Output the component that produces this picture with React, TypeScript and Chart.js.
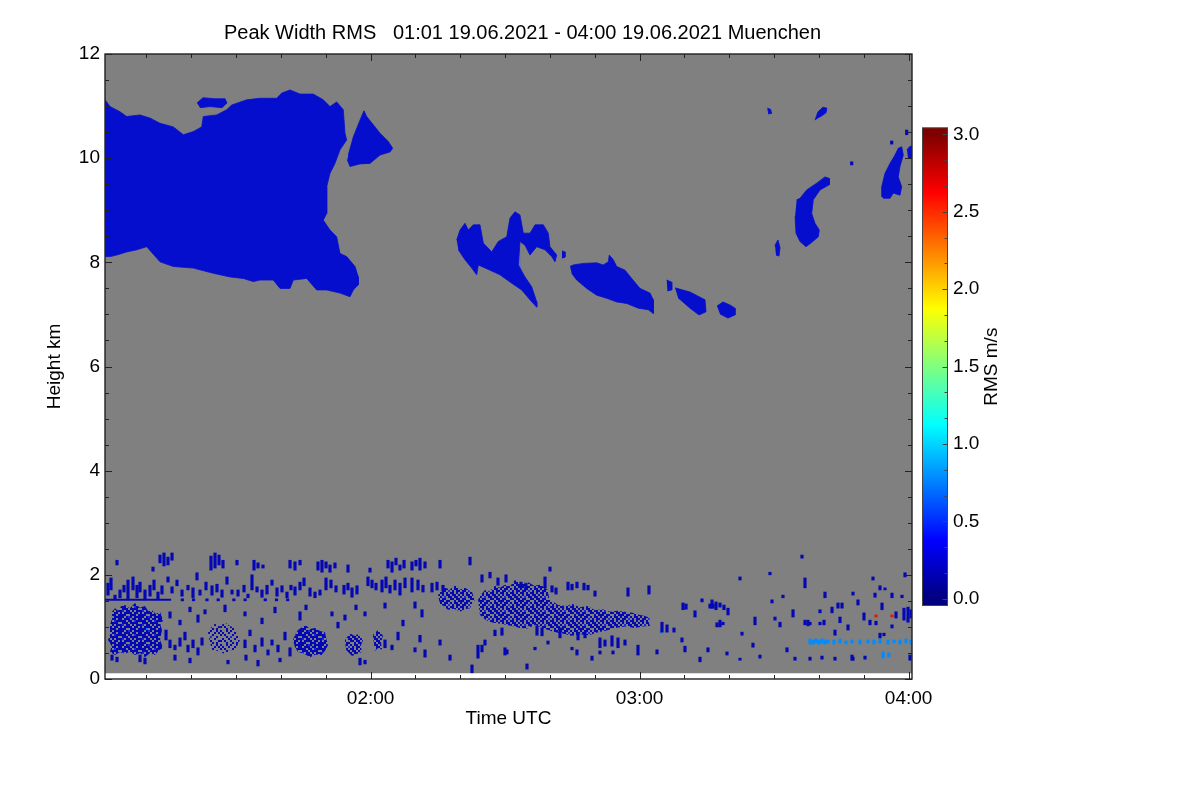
import { useEffect, useRef } from "react";
import { Chart, registerables } from "chart.js";

Chart.register(...registerables);

type Pt = [number, number];
type Streak = [number, number, number];

// ---------- axes / labels ----------
const timeRange: Pt = [60.75, 240.76]; // minutes after 00:00 UTC
const heightRange: Pt = [0, 12]; // km
const firstGateKm = 0.11;
const timeTicks = [120, 180, 240];
const timeMinorStep = 10;
const heightTicks = [0, 2, 4, 6, 8, 10, 12];
const heightMinorStep = 0.5;
const rmsTicks = [0, 0.5, 1, 1.5, 2, 2.5, 3];
const rmsRange: Pt = [0, 3];
const rmsMinorStep = 0.5 / 3;
const titleText = "Peak Width RMS   01:01 19.06.2021 - 04:00 19.06.2021 Muenchen";
const xTitle = "Time UTC";
const yTitle = "Height km";
const cbTitle = "RMS m/s";

// ---------- cloud echoes (time min, height km) ----------
const cirrusMain: Pt[] = [
  [60.5, 11.15], [61.87, 10.99], [64.1, 10.89], [65.59, 10.8], [68.56, 10.83], [70.79, 10.77], [73.02, 10.67],
  [75.99, 10.6], [78.22, 10.45], [80.45, 10.51], [82.32, 10.6], [82.68, 10.8], [85.67, 10.83], [87.9, 10.93],
  [89.01, 11.02], [92.36, 11.12], [95.32, 11.15], [99.05, 11.15], [100.17, 11.25], [102.02, 11.31], [104.25, 11.23],
  [107.21, 11.23], [109.44, 11.12], [110.94, 10.99], [112.43, 11.08], [113.9, 10.93], [114.28, 10.48], [114.66, 10.35],
  [113.17, 10.16], [112.05, 9.9], [110.94, 9.71], [110.2, 9.45], [110.2, 8.94], [109.44, 8.81], [110.94, 8.62],
  [112.43, 8.49], [113.17, 8.17], [114.66, 8.11], [116.52, 7.92], [117.25, 7.72], [117.25, 7.57], [116.14, 7.47],
  [115.4, 7.34], [113.17, 7.41], [110.2, 7.47], [107.97, 7.47], [105.74, 7.69], [102.75, 7.66], [102.02, 7.5],
  [99.79, 7.5], [98.29, 7.66], [95.32, 7.66], [93.83, 7.63], [91.6, 7.69], [88.63, 7.72], [84.91, 7.79],
  [80.45, 7.89], [75.99, 7.92], [73.02, 8.01], [70.05, 8.3], [67.82, 8.24], [65.59, 8.2], [63.36, 8.14],
  [61.87, 8.11], [60.5, 8.11],
];
const cirrusSide: Pt[] = [
  [115.02, 10.06], [116.14, 10.41], [117.63, 10.73], [118.52, 10.91], [119.12, 10.8], [120.6, 10.64], [122.09, 10.48],
  [123.94, 10.32], [124.92, 10.19], [124.32, 10.12], [122.09, 10.06], [119.86, 9.9], [117.63, 9.89], [115.4, 9.84],
  [114.8, 9.97],
];
const cirrusTop: Pt[] = [
  [81.27, 11.06], [82.61, 11.16], [85.29, 11.14], [87.52, 11.14], [87.96, 11.06], [86.85, 10.97], [84.17, 10.99], [81.94, 10.97],
];
const cirrusWideGlow: Pt[] = [
  [100.0, 11.1], [104.0, 11.15], [108.0, 11.1], [110.5, 10.9], [111.5, 10.3], [110.0, 9.6], [109.0, 8.8],
  [106.0, 8.2], [103.0, 8.0], [100.5, 8.3], [99.5, 9.5],
];
const cirrusGlow: Pt[] = [
  [99.5, 10.9], [101.5, 11.0], [103.5, 10.6], [104.0, 9.5], [103.0, 8.7], [100.5, 8.8], [99.8, 9.8],
];
const cirrusSideGlow: Pt[] = [
  [116.5, 10.3], [118.5, 10.8], [121.5, 10.5], [123.5, 10.2], [120.0, 10.0], [116.5, 9.95],
];
const waveLeft: Pt[] = [
  [139.2, 8.43], [139.94, 8.62], [141.05, 8.75], [141.79, 8.62], [142.9, 8.72], [144.4, 8.72], [145.13, 8.37],
  [147.01, 8.2], [148.48, 8.4], [150.36, 8.49], [151.09, 8.85], [152.2, 8.97], [153.32, 8.91], [154.06, 8.56],
  [155.55, 8.56], [156.67, 8.72], [158.52, 8.72], [159.63, 8.56], [160.01, 8.3], [161.51, 8.14], [161.13, 8.01],
  [160.39, 8.11], [158.9, 8.24], [157.05, 8.3], [155.55, 8.14], [154.43, 8.33], [153.32, 8.4], [152.95, 7.95],
  [154.43, 7.72], [155.93, 7.53], [157.05, 7.24], [157.05, 7.14], [155.55, 7.28], [153.7, 7.47], [151.47, 7.6],
  [148.86, 7.76], [146.63, 7.85], [144.02, 7.95], [143.66, 7.76], [142.55, 7.89], [141.05, 8.05], [139.56, 8.24],
];
const waveGlow: Pt[] = [
  [151.2, 8.85], [152.4, 8.95], [153.2, 8.6], [153.6, 7.75], [152.5, 7.6], [151.6, 8.2],
];
const waveBitA: Pt[] = [[162.69, 8.22], [163.36, 8.2], [163.36, 8.1], [162.69, 8.08]];
const waveMid: Pt[] = [
  [164.48, 7.92], [165.21, 7.95], [167.44, 7.98], [170.43, 7.99], [171.9, 7.95], [173.02, 8.01], [173.24, 8.14],
  [174.13, 8.05], [174.89, 7.92], [176.74, 7.85], [178.24, 7.69], [180.09, 7.5], [182.32, 7.41], [183.05, 7.28],
  [183.05, 7.02], [181.94, 7.09], [179.71, 7.12], [177.12, 7.21], [174.89, 7.24], [172.66, 7.31], [170.43, 7.37],
  [168.2, 7.5], [165.97, 7.66], [164.85, 7.79],
];
const waveMidGlow: Pt[] = [
  [168.0, 7.8], [175.0, 7.65], [180.5, 7.4], [179.5, 7.25], [172.0, 7.45], [167.5, 7.6],
];
const waveBitB: Pt[] = [[186.04, 7.66], [187.16, 7.62], [187.16, 7.47], [186.2, 7.45]];
const waveBitC: Pt[] = [
  [187.9, 7.51], [191.25, 7.43], [194.59, 7.28], [194.81, 7.05], [193.25, 6.99], [191.25, 7.12], [188.57, 7.32],
];
const waveBitD: Pt[] = [
  [197.26, 7.16], [198.6, 7.24], [200.17, 7.18], [201.28, 7.12], [201.28, 6.99], [199.71, 6.93], [197.93, 7.01],
];
const eastA: Pt[] = [[208.48, 10.96], [209.2, 10.94], [209.47, 10.86], [208.7, 10.85]];
const eastB: Pt[] = [[219.12, 10.73], [219.79, 10.89], [220.9, 10.98], [221.79, 10.96], [221.57, 10.87], [220.24, 10.79]];
const eastC: Pt[] = [
  [215.04, 9.2], [215.78, 9.23], [217.27, 9.39], [219.5, 9.52], [221.35, 9.64], [222.31, 9.61], [222.31, 9.49],
  [220.24, 9.39], [218.74, 9.2], [218.39, 8.94], [219.12, 8.75], [220.08, 8.62], [219.86, 8.49], [218.22, 8.37],
  [217.1, 8.3], [215.78, 8.4], [214.89, 8.56], [214.67, 8.88],
];
const eastD: Pt[] = [[210.2, 8.33], [210.87, 8.43], [211.32, 8.28], [211.09, 8.12], [210.42, 8.14]];
const eastE: Pt[] = [
  [234.0, 9.26], [234.0, 9.45], [234.74, 9.71], [235.85, 9.9], [236.97, 10.06], [237.7, 10.19], [238.46, 10.22],
  [238.82, 10.06], [238.08, 9.84], [237.7, 9.64], [238.46, 9.45], [238.08, 9.29], [236.59, 9.33], [235.85, 9.23],
  [234.35, 9.23],
];
const eastF: Pt[] = [[239.64, 10.16], [240.31, 10.23], [241.2, 10.23], [241.2, 10.0], [239.87, 10.0]];

// ---------- boundary-layer clusters ----------
const blA: Pt[] = [
  [62.31, 1.29], [63.0, 1.36], [63.65, 1.31], [64.4, 1.4], [65.21, 1.42], [66.3, 1.36], [67.44, 1.46], [68.5, 1.37],
  [69.67, 1.4], [70.4, 1.3], [71.23, 1.32], [72.1, 1.25], [73.02, 1.29], [73.69, 1.13], [73.1, 1.04], [73.46, 0.94],
  [73.02, 0.75], [73.69, 0.6], [72.8, 0.55], [71.9, 0.46], [70.8, 0.5], [69.67, 0.42], [68.6, 0.5], [67.44, 0.46],
  [66.3, 0.53], [65.21, 0.48], [64.1, 0.52], [62.98, 0.46], [61.87, 0.52], [62.2, 0.64], [61.42, 0.75], [62.0, 0.88],
  [61.87, 1.04], [62.3, 1.16],
];
const blB: Pt[] = [
  [83.73, 0.9], [84.4, 0.99], [85.29, 1.06], [86.4, 1.01], [87.52, 1.09], [88.6, 1.02], [89.75, 0.98], [90.2, 0.86],
  [90.86, 0.75], [90.3, 0.65], [89.97, 0.56], [88.7, 0.55], [87.52, 0.48], [86.0, 0.54], [84.62, 0.56], [84.1, 0.72],
];
const blC: Pt[] = [
  [102.69, 0.75], [103.2, 0.86], [103.8, 0.94], [104.6, 0.99], [105.36, 1.04], [106.5, 0.96], [107.59, 0.98],
  [108.7, 0.92], [109.82, 0.9], [110.1, 0.78], [110.49, 0.65], [109.9, 0.55], [109.15, 0.46], [107.8, 0.47],
  [106.48, 0.42], [105.1, 0.49], [103.8, 0.52], [103.1, 0.62],
];
const blD: Pt[] = [[114.28, 0.75], [115.4, 0.88], [116.3, 0.83], [117.19, 0.86], [118.3, 0.75], [117.8, 0.64], [118.08, 0.52], [116.9, 0.48], [115.85, 0.44], [114.51, 0.56]];
const blE: Pt[] = [[120.53, 0.85], [121.65, 0.94], [122.76, 0.83], [122.3, 0.7], [122.54, 0.56], [121.7, 0.6], [120.98, 0.54], [120.7, 0.7]];
const blF: Pt[] = [
  [135.03, 1.61], [135.8, 1.7], [136.59, 1.75], [137.7, 1.72], [138.82, 1.81], [140.0, 1.72], [141.05, 1.75],
  [142.61, 1.67], [142.9, 1.6], [143.28, 1.52], [142.6, 1.44], [142.17, 1.36], [141.0, 1.34], [139.94, 1.29],
  [138.6, 1.35], [137.26, 1.33], [136.3, 1.4], [135.48, 1.44],
];
const blG: Pt[] = [
  [143.96, 1.52], [144.6, 1.62], [145.52, 1.71], [146.6, 1.69], [147.75, 1.79], [148.9, 1.75], [149.98, 1.81],
  [151.1, 1.78], [152.21, 1.9], [153.6, 1.82], [155.11, 1.86], [156.5, 1.79], [157.78, 1.81], [158.7, 1.76],
  [159.56, 1.71], [159.7, 1.6], [160.01, 1.52], [161.0, 1.47], [161.8, 1.42], [163.36, 1.4], [165.0, 1.44],
  [166.71, 1.38], [168.4, 1.4], [170.05, 1.32], [171.7, 1.34], [173.4, 1.29], [175.0, 1.31], [176.74, 1.29],
  [178.4, 1.27], [180.09, 1.23], [181.2, 1.21], [182.32, 1.17], [182.0, 1.1], [182.32, 1.02], [180.6, 1.01],
  [178.97, 0.98], [176.8, 1.01], [174.51, 0.98], [172.6, 0.93], [170.72, 0.9], [168.7, 0.84], [166.71, 0.86],
  [164.7, 0.83], [162.69, 0.88], [161.1, 0.9], [159.56, 0.94], [158.1, 0.99], [156.67, 1.04], [155.0, 0.97],
  [153.32, 0.98], [151.6, 1.02], [149.98, 1.04], [148.3, 1.07], [146.63, 1.09], [145.4, 1.15], [144.4, 1.23],
];
const gateLine: Pt[] = [[60.5, 1.52], [75.5, 1.52]];

// ---------- speckle streaks (time min, low km, high km) ----------
const streaksDark: Streak[] = [
  [61.42, 1.61, 1.84], [62.09, 1.71, 1.94], [62.98, 1.52, 1.61], [64.1, 1.56, 1.71], [64.99, 1.67, 1.8], [65.88, 1.52, 1.9],
  [67.0, 1.71, 1.96], [67.89, 1.56, 1.8], [68.56, 1.67, 1.86], [69.67, 1.52, 1.71], [70.79, 1.59, 1.8], [71.68, 1.71, 1.9],
  [72.57, 1.52, 1.67], [73.46, 1.63, 1.79], [62.31, 0.36, 0.46], [63.43, 0.33, 0.42], [68.56, 0.33, 0.46], [69.67, 0.29, 0.4],
  [73.02, 2.23, 2.38], [73.91, 2.17, 2.42], [74.8, 2.19, 2.34], [75.7, 2.28, 2.42], [63.43, 2.19, 2.28], [71.46, 2.07, 2.15],
  [84.39, 2.09, 2.36], [85.29, 2.13, 2.42], [86.18, 2.19, 2.38], [87.07, 2.13, 2.28], [90.19, 2.19, 2.28], [93.99, 2.09, 2.28],
  [94.88, 2.13, 2.23], [95.99, 2.13, 2.19], [102.02, 2.13, 2.28], [103.13, 2.09, 2.25], [104.25, 2.19, 2.28],
  [74.8, 1.86, 1.96], [75.7, 1.65, 1.77], [76.81, 1.79, 1.9], [77.93, 1.59, 1.71], [79.26, 1.71, 1.8], [80.38, 1.56, 1.75],
  [81.27, 1.9, 2.04], [81.94, 1.61, 1.71], [83.28, 1.71, 1.86], [84.62, 1.61, 1.79], [85.73, 1.67, 1.82], [86.85, 1.57, 1.71],
  [87.96, 1.82, 1.96], [89.08, 1.63, 1.71], [90.42, 1.59, 1.71], [91.76, 1.67, 1.8], [92.65, 1.56, 1.63], [93.54, 1.71, 2.0],
  [94.66, 1.67, 1.77], [95.77, 1.57, 1.71], [96.89, 1.63, 1.8], [98.0, 1.8, 1.9], [99.12, 1.59, 1.75], [100.23, 1.67, 1.79],
  [101.35, 1.56, 1.67], [102.24, 1.71, 1.8], [103.13, 1.61, 1.77], [104.25, 1.71, 1.86], [105.14, 1.79, 1.94],
  [78.0, 1.5, 1.54], [80.5, 1.5, 1.54], [83.5, 1.5, 1.54], [86.0, 1.5, 1.54], [89.5, 1.5, 1.54], [92.0, 1.5, 1.54],
  [96.5, 1.5, 1.54], [99.0, 1.5, 1.54], [101.5, 1.5, 1.54],
  [75.25, 1.17, 1.29], [77.48, 1.04, 1.13], [79.71, 1.29, 1.38], [81.49, 1.09, 1.23], [83.06, 1.25, 1.33], [87.52, 1.29, 1.42],
  [91.98, 1.21, 1.29], [95.77, 1.06, 1.17], [98.67, 1.27, 1.38], [104.25, 1.13, 1.29], [105.59, 1.33, 1.42],
  [74.36, 0.75, 0.94], [75.25, 0.6, 0.75], [76.36, 0.56, 0.65], [77.48, 0.63, 0.79], [78.59, 0.75, 0.9], [79.26, 0.52, 0.65],
  [80.38, 0.6, 0.75], [81.49, 0.46, 0.6], [82.39, 0.65, 0.79], [91.98, 0.6, 0.75], [93.09, 0.83, 0.94], [94.21, 0.52, 0.65],
  [95.77, 0.63, 0.79], [97.11, 0.46, 0.56], [98.0, 0.65, 0.75], [99.34, 0.52, 0.65], [100.9, 0.75, 0.9], [102.02, 0.44, 0.6],
  [92.2, 0.36, 0.46], [88.19, 0.29, 0.36], [94.88, 0.25, 0.36], [76.36, 0.36, 0.46], [79.71, 0.31, 0.4], [99.79, 0.33, 0.4],
  [108.26, 2.09, 2.25], [109.15, 2.05, 2.28], [110.05, 2.13, 2.25], [110.94, 2.05, 2.19], [112.05, 2.13, 2.23],
  [114.95, 2.05, 2.19], [119.86, 2.05, 2.13], [123.88, 2.13, 2.28], [124.77, 2.05, 2.25], [125.66, 2.19, 2.32],
  [126.55, 2.09, 2.19], [127.45, 2.13, 2.28], [129.23, 2.09, 2.25], [130.12, 2.17, 2.28], [131.01, 2.09, 2.32],
  [132.13, 2.13, 2.25], [135.48, 2.13, 2.28], [142.17, 2.19, 2.34],
  [106.48, 1.59, 1.75], [107.59, 1.56, 1.67], [108.71, 1.61, 1.71], [110.05, 1.71, 1.94], [111.16, 1.75, 1.9],
  [112.28, 1.67, 1.79], [114.06, 1.63, 1.8], [114.95, 1.71, 1.84], [115.85, 1.57, 1.75], [116.96, 1.63, 1.79],
  [119.41, 1.79, 1.96], [120.31, 1.75, 1.9], [121.2, 1.71, 1.84], [122.54, 1.67, 1.9], [123.43, 1.75, 1.96],
  [124.32, 1.65, 1.8], [125.44, 1.71, 1.9], [126.55, 1.61, 1.84], [127.67, 1.75, 1.94], [129.23, 1.67, 1.94],
  [130.57, 1.71, 1.9], [131.68, 1.67, 1.8], [133.69, 1.67, 1.84], [134.81, 1.71, 1.86], [136.14, 1.69, 1.8],
  [111.38, 1.21, 1.29], [112.72, 0.98, 1.09], [114.28, 1.13, 1.23], [123.21, 1.36, 1.46], [127.22, 1.02, 1.13],
  [129.9, 1.36, 1.48], [131.46, 1.19, 1.33], [116.74, 1.33, 1.42], [118.75, 1.21, 1.29],
  [123.21, 0.6, 0.75], [124.77, 0.56, 0.65], [126.11, 0.75, 0.9], [131.01, 0.71, 0.84], [132.13, 0.42, 0.56],
  [129.9, 0.52, 0.6], [117.63, 0.27, 0.4], [118.75, 0.29, 0.36], [142.61, 0.12, 0.27], [143.95, 0.4, 0.65],
  [145.51, 0.65, 0.75], [149.97, 0.46, 0.6], [147.74, 0.83, 0.94], [149.3, 0.84, 0.98], [135.48, 0.65, 0.75],
  [137.71, 0.36, 0.46],
  [144.84, 1.86, 2.0], [146.63, 1.94, 2.05], [148.41, 1.8, 1.94], [150.2, 1.86, 2.0], [153.54, 1.75, 1.86],
  [154.65, 1.71, 1.84], [158.9, 1.75, 1.96], [160.46, 1.67, 1.79], [161.35, 1.63, 1.75], [164.03, 1.71, 1.86],
  [164.92, 1.71, 1.82], [166.03, 1.75, 1.86], [167.6, 1.71, 1.84], [168.49, 1.71, 1.8], [170.05, 1.59, 1.69],
  [177.41, 1.59, 1.75], [182.09, 1.63, 1.79], [160.01, 2.07, 2.15],
  [157.11, 0.84, 1.02], [158.23, 0.83, 0.98], [162.24, 0.79, 0.98], [166.26, 0.75, 0.88], [167.82, 0.79, 0.9],
  [171.16, 0.6, 0.79], [172.28, 0.63, 0.75], [173.84, 0.63, 0.83], [175.18, 0.6, 0.79], [176.74, 0.65, 0.75],
  [179.64, 0.46, 0.65], [166.03, 0.46, 0.56], [169.38, 0.36, 0.44], [154.88, 0.19, 0.29], [156.67, 0.56, 0.61],
  [159.57, 0.67, 0.73], [164.92, 0.56, 0.61], [171.16, 0.48, 0.54], [174.06, 0.48, 0.54], [183.88, 0.48, 0.56],
  [144.84, 0.52, 0.65], [150.42, 0.48, 0.56],
  [184.99, 0.9, 1.09], [186.11, 0.9, 1.04], [187.67, 0.9, 0.98], [189.68, 1.33, 1.46], [190.35, 1.34, 1.44],
  [192.36, 1.19, 1.31], [193.92, 1.48, 1.54], [195.7, 1.36, 1.44], [196.37, 1.36, 1.44], [197.26, 1.0, 1.08],
  [189.45, 0.71, 0.79], [193.47, 0.33, 0.42], [195.25, 0.52, 0.6], [190.12, 0.52, 0.63],
  [196.15, 1.36, 1.52], [197.04, 1.33, 1.48], [197.93, 1.38, 1.46], [198.82, 1.33, 1.42], [197.93, 1.0, 1.13],
  [198.6, 1.04, 1.09], [199.72, 1.23, 1.36], [202.39, 1.9, 1.96], [202.84, 0.84, 0.9], [205.74, 1.04, 1.19],
  [205.29, 0.61, 0.69], [209.08, 2.0, 2.05], [209.53, 1.46, 1.52], [210.2, 1.13, 1.19], [211.32, 1.0, 1.09],
  [211.98, 1.56, 1.61], [212.88, 0.52, 0.6], [214.22, 1.19, 1.33], [214.66, 0.36, 0.42], [216.22, 2.32, 2.38],
  [216.89, 1.75, 1.94], [216.89, 1.04, 1.13], [217.56, 1.02, 1.13], [218.01, 1.04, 1.09], [220.24, 1.04, 1.09],
  [221.13, 1.04, 1.13], [220.24, 1.27, 1.33], [221.35, 1.56, 1.67], [222.92, 1.27, 1.38], [224.25, 1.36, 1.46],
  [225.15, 1.36, 1.46], [223.58, 0.84, 0.94], [224.7, 1.08, 1.19], [227.6, 1.61, 1.67], [227.6, 0.36, 0.42],
  [230.05, 1.13, 1.27], [232.51, 1.57, 1.65], [231.39, 1.04, 1.13], [232.73, 1.04, 1.11], [233.62, 0.79, 0.88],
  [234.51, 0.83, 0.88], [234.07, 1.33, 1.46], [234.74, 1.71, 1.75], [236.3, 1.56, 1.65], [236.3, 0.98, 1.04],
  [238.53, 1.56, 1.61], [238.97, 1.13, 1.36], [239.87, 1.09, 1.38], [240.54, 1.17, 1.33], [239.2, 1.96, 2.04],
  [240.31, 0.36, 0.46], [227.38, 0.36, 0.46], [199.49, 0.46, 0.52], [202.39, 0.36, 0.4], [206.85, 0.4, 0.46],
  [218.01, 0.36, 0.42], [220.68, 0.38, 0.44], [223.58, 0.36, 0.42], [230.28, 0.38, 0.44], [232.06, 1.9, 1.96],
  [233.62, 1.71, 1.79], [228.71, 1.42, 1.52], [226.48, 0.94, 1.04], [237.19, 1.17, 1.29],
  [227.31, 9.87, 9.93], [236.23, 10.27, 10.33], [239.57, 10.45, 10.54],
];
const streaksLight: Streak[] = [
  [218.01, 0.67, 0.77], [218.68, 0.67, 0.75], [219.35, 0.69, 0.77], [220.02, 0.67, 0.75], [220.68, 0.69, 0.77],
  [221.35, 0.67, 0.75], [222.02, 0.69, 0.75], [223.36, 0.67, 0.75], [224.7, 0.69, 0.77], [226.04, 0.67, 0.73],
  [227.38, 0.69, 0.75], [229.16, 0.67, 0.75], [230.94, 0.69, 0.75], [232.28, 0.67, 0.75], [233.62, 0.69, 0.77],
  [235.41, 0.67, 0.75], [236.75, 0.69, 0.75], [238.08, 0.67, 0.75], [239.42, 0.69, 0.77], [240.54, 0.67, 0.75],
  [234.3, 0.4, 0.52], [235.6, 0.42, 0.5], [184.77, 0.88, 0.92], [66.5, 0.7, 0.74], [70.0, 0.95, 0.99], [107.0, 0.6, 0.64],
];
const streaksRed: Streak[] = [[232.73, 1.19, 1.23], [236.3, 1.19, 1.23]];

// ---------- colours / textures ----------
const greyField = "rgb(128,128,128)";
const cloudColor = "rgb(6,14,206)";
const glowColor = "rgba(60,90,255,0.35)";
const softGlow = "rgba(40,70,255,0.28)";
const speckleColor = "rgb(4,8,180)";
const speckleBright = "rgb(20,40,235)";
const lightColor = "rgb(0,140,255)";
const redColor = "rgb(230,20,0)";
const fontFamily = '"Liberation Sans", Arial, Helvetica, sans-serif';
const denseTile = [
  "1101210111", "1011101101", "1110110211", "0111011110", "1201101011", "1011110110", "1110011101",
];
const mediumTile = [
  "1011010110", "0110201011", "1101011010", "0101101101", "1020110110", "0110011011", "1101100101",
];
const sparseTile = [
  "1001010010", "0100100101", "1010001000", "0001020010", "0100100100", "1010010001", "0001001010",
];

function jet(n: number): string {
  const c = (x: number) => Math.max(0, Math.min(1, x));
  const r = c(Math.min(4 * n - 1.5, -4 * n + 4.5));
  const g = c(Math.min(4 * n - 0.5, -4 * n + 3.5));
  const b = c(Math.min(4 * n + 0.5, -4 * n + 2.5));
  return `rgb(${Math.round(r * 255)},${Math.round(g * 255)},${Math.round(b * 255)})`;
}

function makePattern(tile: string[]): CanvasPattern | string {
  const cw = 2, ch = 2;
  const c = document.createElement("canvas");
  c.width = tile[0].length * cw;
  c.height = tile.length * ch;
  const g = c.getContext("2d");
  if (!g) return speckleColor;
  tile.forEach((row, j) =>
    row.split("").forEach((k, i) => {
      if (k === "0") return;
      g.fillStyle = k === "2" ? speckleBright : speckleColor;
      g.fillRect(i * cw, j * ch, cw, ch);
    })
  );
  return g.createPattern(c, "repeat") || speckleColor;
}

const fmtTime = (v: number) => {
  const hh = Math.floor(v / 60);
  const mm = Math.round(v - hh * 60);
  return `${String(hh).padStart(2, "0")}:${String(mm).padStart(2, "0")}`;
};

const poly = (pts: Pt[], color: any, bw = 0.8) => ({
  type: "line" as const,
  data: pts.map(([x, y]) => ({ x, y })),
  borderColor: typeof color === "string" ? color : "rgba(0,0,0,0)",
  backgroundColor: color,
  borderWidth: typeof color === "string" ? bw : 0,
  pointRadius: 0,
  tension: 0,
  fill: "shape" as const,
});
const bars = (s: Streak[], color: string) => ({
  type: "bar" as const,
  data: s.map(([x, lo, hi]) => ({ x, y: [lo, hi] })),
  backgroundColor: color,
  borderWidth: 0,
  barThickness: 2.5,
  grouped: false,
});

const framePlugin = {
  id: "frameAndColorbar",
  beforeDatasetsDraw(chart: any) {
    const { ctx, chartArea } = chart;
    const ys = chart.scales.y;
    const yTop = ys.getPixelForValue(heightRange[1]);
    const yGate = ys.getPixelForValue(firstGateKm);
    ctx.save();
    ctx.fillStyle = greyField;
    ctx.fillRect(chartArea.left, yTop, chartArea.right - chartArea.left, yGate - yTop);
    ctx.restore();
  },
  afterDatasetsDraw(chart: any) {
    const { ctx, chartArea } = chart;
    const { left, right, top, bottom } = chartArea;
    const xs = chart.scales.x;
    const ys = chart.scales.y;
    const cs = chart.scales.cb;
    ctx.save();
    ctx.strokeStyle = "#222";
    ctx.lineWidth = 1.4;
    const seg = (x1: number, y1: number, x2: number, y2: number) => {
      ctx.beginPath();
      ctx.moveTo(x1, y1);
      ctx.lineTo(x2, y2);
      ctx.stroke();
    };
    ctx.strokeRect(left, top, right - left, bottom - top);
    ctx.lineWidth = 1;
    const t0 = Math.ceil(timeRange[0] / timeMinorStep);
    const t1 = Math.floor(timeRange[1] / timeMinorStep);
    for (let k = t0; k <= t1; k++) {
      const v = k * timeMinorStep;
      const px = Math.round(xs.getPixelForValue(v)) + 0.5;
      const len = v % 60 === 0 ? 7 : 4;
      seg(px, bottom, px, bottom - len);
      seg(px, top, px, top + len);
    }
    const nH = Math.round((heightRange[1] - heightRange[0]) / heightMinorStep);
    for (let k = 0; k <= nH; k++) {
      const v = heightRange[0] + k * heightMinorStep;
      const py = Math.round(ys.getPixelForValue(v)) + 0.5;
      const len = heightTicks.includes(v) ? 7 : 4;
      seg(left, py, left + len, py);
      seg(right, py, right - len, py);
    }
    // colour bar
    const cx0 = right + 10.5;
    const cx1 = right + 35.5;
    const yv3 = cs.getPixelForValue(rmsRange[1]);
    const yv0 = cs.getPixelForValue(rmsRange[0]);
    const pad = 0.043 * (rmsRange[1] - rmsRange[0]) / 3;
    const cyTop = cs.getPixelForValue(rmsRange[1] + pad);
    const cyBot = cs.getPixelForValue(rmsRange[0] - pad);
    const grad = ctx.createLinearGradient(0, yv0, 0, yv3);
    for (let i = 0; i <= 40; i++) grad.addColorStop(i / 40, jet(i / 40));
    ctx.fillStyle = grad;
    ctx.fillRect(cx0, cyTop, cx1 - cx0, cyBot - cyTop);
    ctx.strokeStyle = "#444";
    ctx.strokeRect(cx0, cyTop, cx1 - cx0, cyBot - cyTop);
    const nR = Math.round((rmsRange[1] - rmsRange[0]) / rmsMinorStep);
    for (let k = 0; k <= nR; k++) {
      const v = rmsRange[0] + k * rmsMinorStep;
      const py = Math.round(cs.getPixelForValue(v)) + 0.5;
      seg(cx1, py, cx1 - (k % 3 === 0 ? 5 : 3), py);
    }
    // texts
    ctx.fillStyle = "#000";
    ctx.textAlign = "center";
    ctx.textBaseline = "middle";
    ctx.font = `20px ${fontFamily}`;
    ctx.fillText(titleText, 522.5, 33);
    ctx.font = `19px ${fontFamily}`;
    ctx.fillText(xTitle, (left + right) / 2, 719);
    ctx.save();
    ctx.translate(55, (top + bottom) / 2);
    ctx.rotate(-Math.PI / 2);
    ctx.fillText(yTitle, 0, 0);
    ctx.restore();
    ctx.save();
    ctx.translate(992, (cs.getPixelForValue(rmsRange[0]) + cs.getPixelForValue(rmsRange[1])) / 2);
    ctx.rotate(-Math.PI / 2);
    ctx.fillText(cbTitle, 0, 0);
    ctx.restore();
    ctx.restore();
  },
};

export default function App() {
  const ref = useRef<HTMLCanvasElement>(null);
  useEffect(() => {
    const canvas = ref.current;
    if (!canvas) return;
    const tickFont = { family: fontFamily, size: 19 };
    const dense = makePattern(denseTile);
    const medium = makePattern(mediumTile);
    const sparse = makePattern(sparseTile);
    const chart = new Chart(canvas, {
      type: "scatter",
      data: {
        datasets: [
          poly(cirrusMain, cloudColor),
          poly(cirrusSide, cloudColor),
          poly(cirrusTop, cloudColor),
          poly(cirrusWideGlow, softGlow, 0),
          poly(cirrusGlow, glowColor, 0),
          poly(cirrusSideGlow, softGlow, 0),
          poly(waveLeft, cloudColor),
          poly(waveGlow, glowColor, 0),
          poly(waveBitA, cloudColor),
          poly(waveMid, cloudColor),
          poly(waveMidGlow, glowColor, 0),
          poly(waveBitB, cloudColor),
          poly(waveBitC, cloudColor),
          poly(waveBitD, cloudColor),
          poly(eastA, cloudColor),
          poly(eastB, cloudColor),
          poly(eastC, cloudColor),
          poly(eastD, cloudColor),
          poly(eastE, cloudColor),
          poly(eastF, cloudColor),
          poly(blA, dense),
          poly(blB, sparse),
          poly(blC, dense),
          poly(blD, medium),
          poly(blE, medium),
          poly(blF, medium),
          poly(blG, medium),
          {
            type: "line" as const,
            data: gateLine.map(([x, y]) => ({ x, y })),
            borderColor: speckleColor,
            borderWidth: 2,
            pointRadius: 0,
            fill: false,
          },
          bars(streaksDark, speckleColor),
          bars(streaksLight, lightColor),
          bars(streaksRed, redColor),
        ] as any,
      },
      options: {
        animation: false,
        responsive: false,
        devicePixelRatio: 1,
        events: [],
        layout: { padding: { top: 54, left: 0, right: 0, bottom: 0 } },
        plugins: { legend: { display: false }, tooltip: { enabled: false }, title: { display: false } },
        scales: {
          x: {
            type: "linear",
            min: timeRange[0],
            max: timeRange[1],
            offset: false,
            grid: { display: false, drawTicks: false, offset: false },
            border: { display: false },
            ticks: { color: "#000", font: tickFont, padding: 8, maxRotation: 0, autoSkip: false, callback: (v: any) => fmtTime(Number(v)) },
            afterBuildTicks: (s: any) => { s.ticks = timeTicks.map((value) => ({ value })); },
            afterFit: (s: any) => { s.height = 121; },
          },
          y: {
            type: "linear",
            position: "left",
            min: heightRange[0],
            max: heightRange[1],
            grid: { display: false, drawTicks: false },
            border: { display: false },
            ticks: { color: "#000", font: tickFont, padding: 5, callback: (v: any) => String(v) },
            afterBuildTicks: (s: any) => { s.ticks = heightTicks.map((value) => ({ value })); },
            afterFit: (s: any) => { s.width = 105; },
          },
          cb: {
            type: "linear",
            position: "right",
            min: -0.518,
            max: 3.52,
            grid: { display: false, drawTicks: false },
            border: { display: false },
            ticks: { color: "#000", font: tickFont, padding: 41, callback: (v: any) => Number(v).toFixed(1) },
            afterBuildTicks: (s: any) => { s.ticks = rmsTicks.map((value) => ({ value })); },
            afterFit: (s: any) => { s.width = 288; },
          },
        },
      } as any,
      plugins: [framePlugin],
    });
    return () => chart.destroy();
  }, []);
  return (
    <div style={{ position: "fixed", left: 0, top: 0, width: 1200, height: 800, background: "#fff" }}>
      <canvas ref={ref} width={1200} height={800} style={{ width: 1200, height: 800, display: "block" }} />
    </div>
  );
}
